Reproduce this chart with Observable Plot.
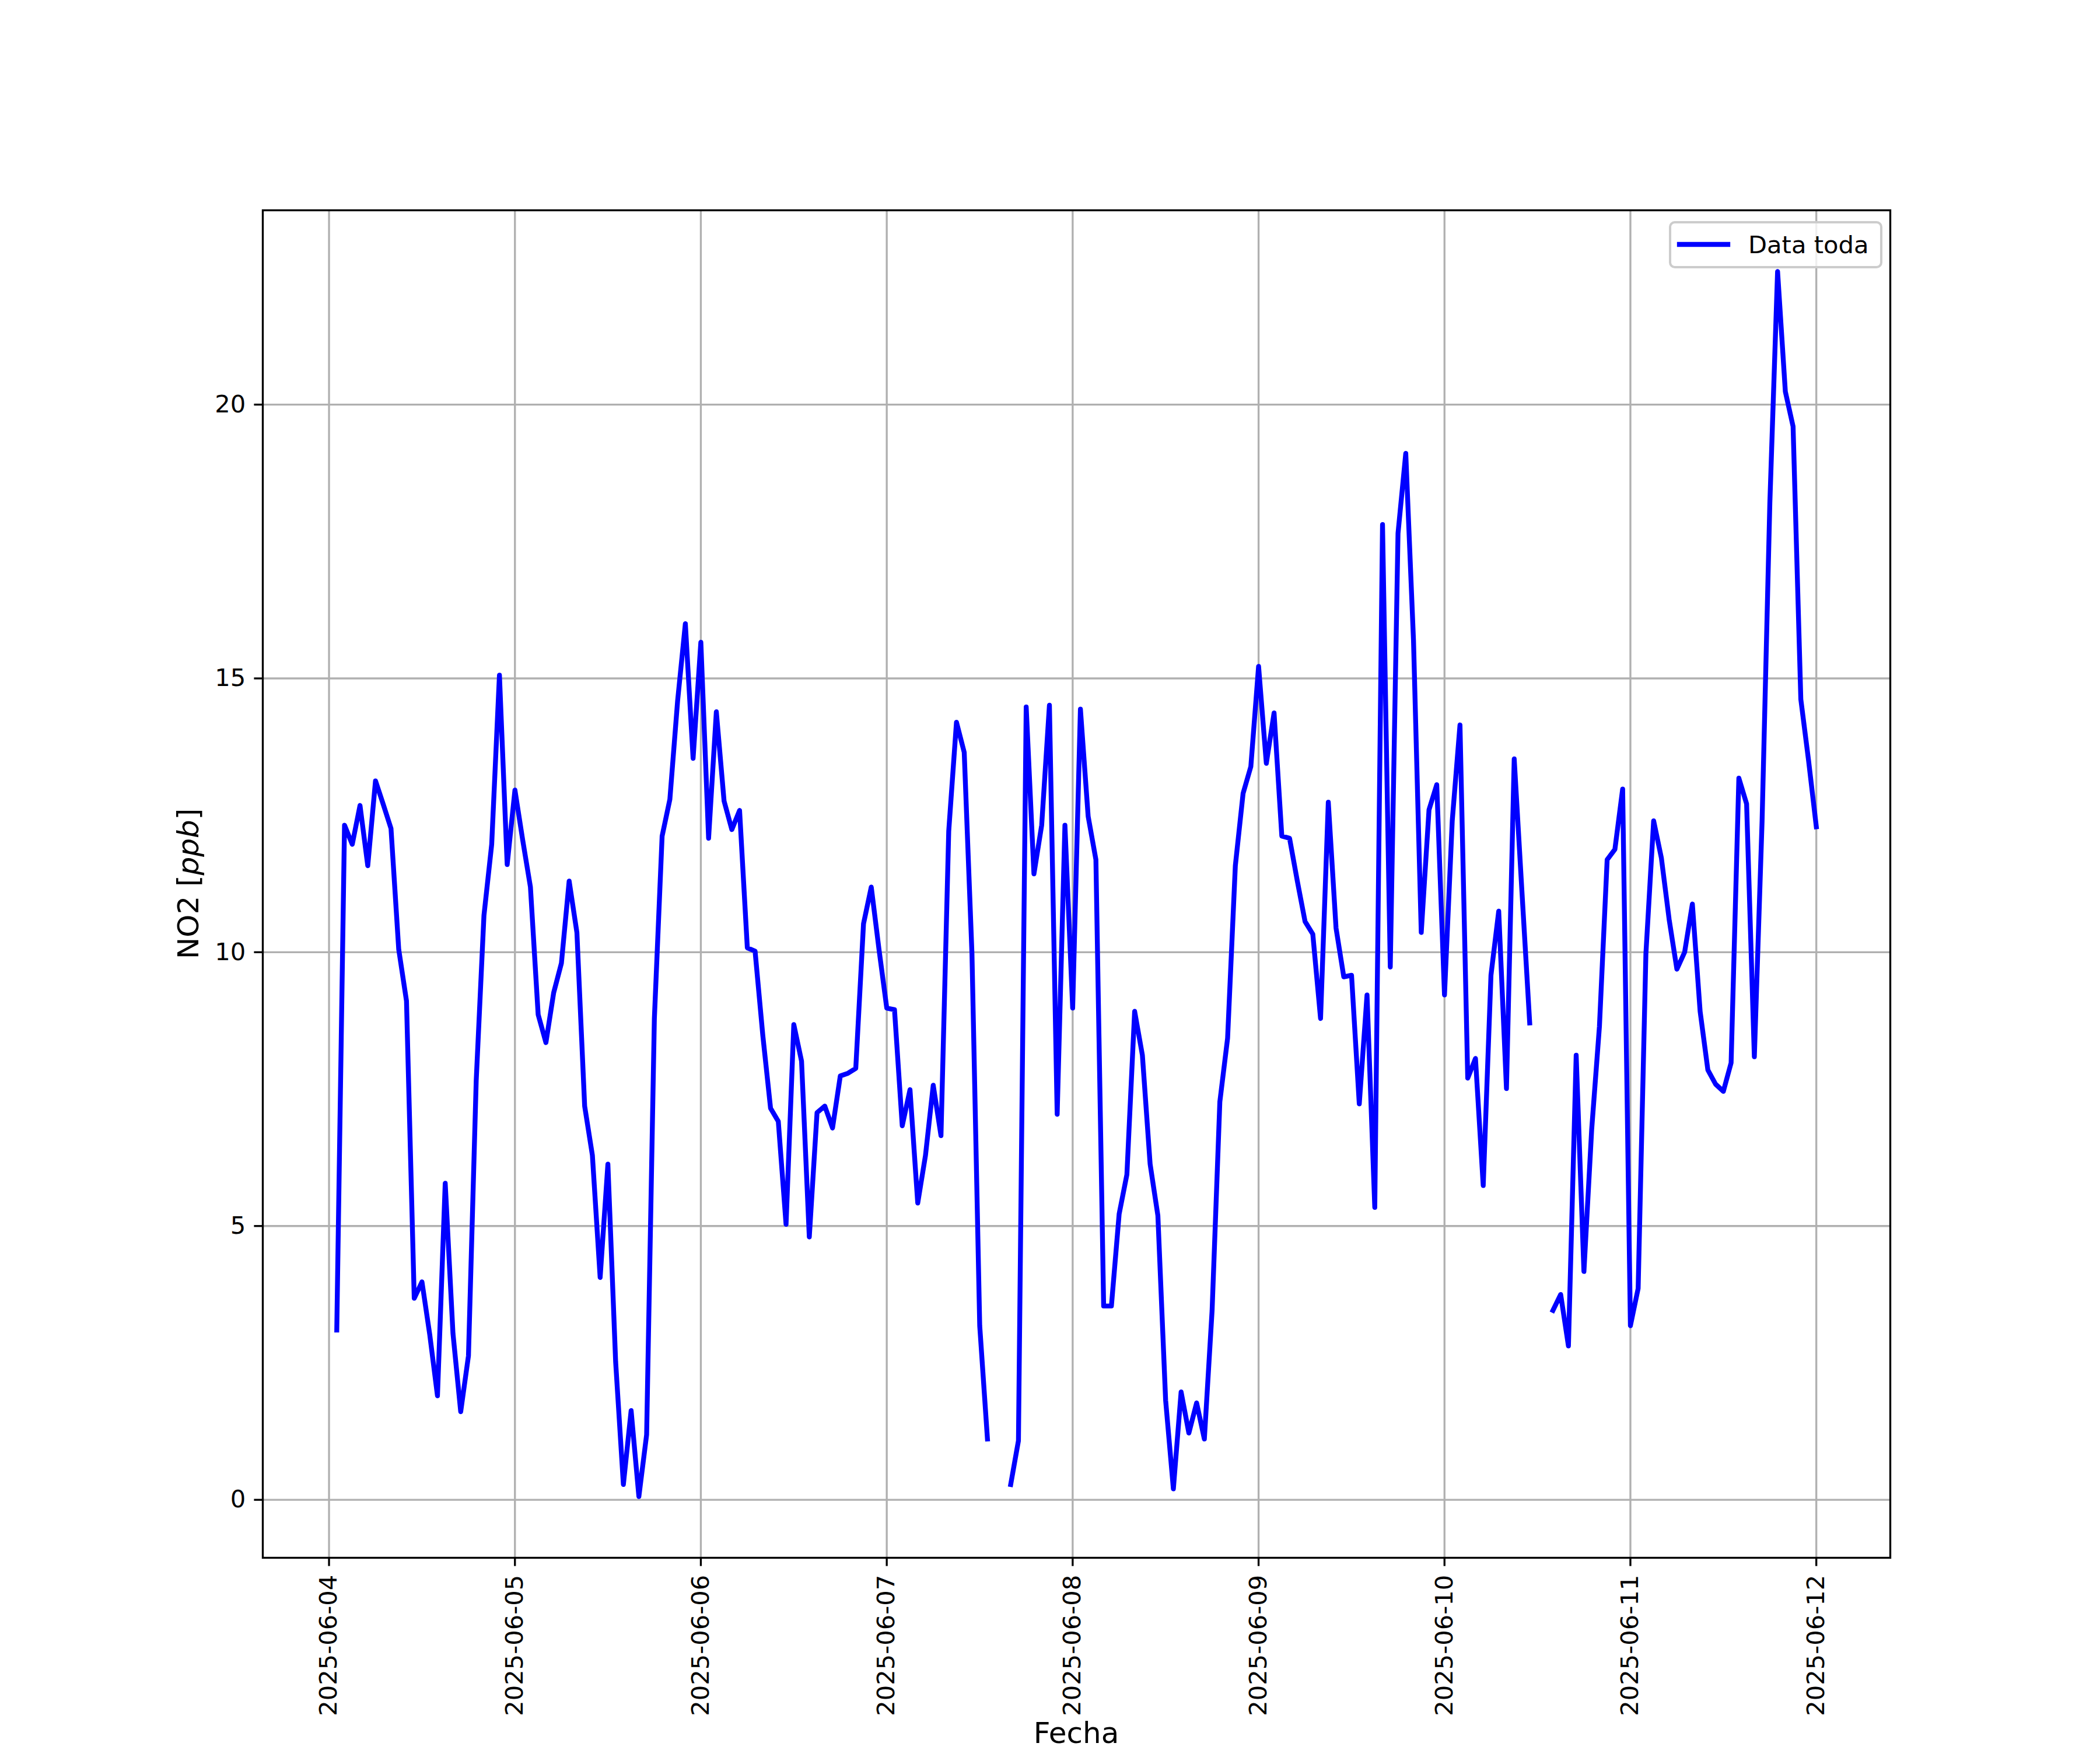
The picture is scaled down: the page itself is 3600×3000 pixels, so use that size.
<!DOCTYPE html>
<html>
<head>
<meta charset="utf-8">
<script src="https://cdn.jsdelivr.net/npm/d3@7"></script>
<script src="https://cdn.jsdelivr.net/npm/@observablehq/plot@0.6"></script>
<style>
  html, body { margin: 0; padding: 0; background: #ffffff; }
  svg { display: block; }
</style>
</head>
<body>
<div id="chart"></div>
<script>
// ---- Data (hourly NO2 values, ppb; null = missing hour) ----
const seriesName = "Data toda";
const xLabel = "Fecha";
const yLabelMain = "NO2 ";
const yLabelUnit = "ppb";
const firstDay = [2025, 5, 4]; // 2025-06-04 (month index 5 = June)

const day0604 = [null, 3.10, 12.32, 11.97, 12.68, 11.58, 13.13, 12.70, 12.26, 10.05, 9.11, 3.68,
                 3.98, 3.02, 1.90, 5.78, 3.04, 1.61, 2.63, 7.65, 10.67, 11.97, 15.06, 11.60];
const day0605 = [12.96, 12.05, 11.19, 8.86, 8.35, 9.26, 9.80, 11.30, 10.36, 7.19, 6.29, 4.06,
                 6.13, 2.52, 0.28, 1.63, 0.06, 1.19, 8.79, 12.12, 12.79, 14.59, 16.00, 13.54];
const day0606 = [15.66, 12.08, 14.39, 12.76, 12.24, 12.59, 10.08, 10.02, 8.48, 7.15, 6.91, 5.03,
                 8.68, 8.01, 4.80, 7.07, 7.19, 6.79, 7.74, 7.79, 7.88, 10.52, 11.19, 10.05];
const day0607 = [8.98, 8.95, 6.83, 7.49, 5.42, 6.29, 7.57, 6.65, 12.21, 14.20, 13.65, 9.97,
                 3.18, 1.11, null, null, 0.28, 1.08, 14.48, 11.43, 12.32, 14.51, 7.04, 12.32];
const day0608 = [8.98, 14.44, 12.48, 11.69, 3.54, 3.54, 5.22, 5.94, 8.92, 8.12, 6.13, 5.19,
                 1.82, 0.20, 1.97, 1.22, 1.77, 1.11, 3.46, 7.27, 8.43, 11.58, 12.90, 13.39];
const day0609 = [15.22, 13.45, 14.37, 12.12, 12.08, 11.30, 10.56, 10.33, 8.79, 12.74, 10.44, 9.55,
                 9.58, 7.23, 9.22, 5.34, 17.81, 9.73, 17.65, 19.11, 15.69, 10.36, 12.60, 13.06];
const day0610 = [9.22, 12.40, 14.15, 7.70, 8.06, 5.74, 9.58, 10.75, 7.51, 13.53, 11.10, 8.71,
                 null, null, 3.46, 3.75, 2.81, 8.12, 4.17, 6.76, 8.64, 11.69, 11.88, 12.98];
const day0611 = [3.18, 3.86, 9.97, 12.40, 11.72, 10.60, 9.69, 10.00, 10.88, 8.92, 7.85, 7.59,
                 7.46, 7.98, 13.18, 12.71, 8.09, 12.40, 18.20, 22.43, 20.24, 19.60, 14.62, 13.50];
const day0612 = [12.29];

const xTickLabels = ["2025-06-04", "2025-06-05", "2025-06-06", "2025-06-07", "2025-06-08",
                     "2025-06-09", "2025-06-10", "2025-06-11", "2025-06-12"];
const yTicks = [0, 5, 10, 15, 20];

// ---- Build table ----
const days = [day0604, day0605, day0606, day0607, day0608, day0609, day0610, day0611, day0612];
const data = [];
days.forEach((vals, d) => {
  vals.forEach((v, h) => {
    data.push({ t: new Date(Date.UTC(firstDay[0], firstDay[1], firstDay[2] + d, h)), v });
  });
});
const xTicks = xTickLabels.map(s => new Date(s + "T00:00:00Z"));

const valid = data.filter(d => d.v != null);
const tExt = d3.extent(valid, d => +d.t);
const vExt = d3.extent(valid, d => d.v);
const tPad = (tExt[1] - tExt[0]) * 0.05;
const vPad = (vExt[1] - vExt[0]) * 0.05;

// ---- Styling constants (300 dpi matplotlib look) ----
const FS = 41.67;    // 10 pt
const FL = 50;       // 12 pt axis labels
const LW = 3.33;     // 0.8 pt
const TICK = 14.6;   // 3.5 pt
const LINE = 8.33;   // 2 pt
const W = 3600, H = 3000;
const mL = 450, mR = 360, mT = 360, mB = 330;

const chart = Plot.plot({
  width: W, height: H,
  marginLeft: mL, marginRight: mR, marginTop: mT, marginBottom: mB,
  style: { fontFamily: "DejaVu Sans", fontSize: FS + "px", background: "#ffffff", color: "#000000" },
  x: { type: "utc", domain: [new Date(tExt[0] - tPad), new Date(tExt[1] + tPad)] },
  y: { domain: [vExt[0] - vPad, vExt[1] + vPad] },
  marks: [
    Plot.gridX(xTicks, { stroke: "#b0b0b0", strokeOpacity: 1, strokeWidth: LW }),
    Plot.gridY(yTicks, { stroke: "#b0b0b0", strokeOpacity: 1, strokeWidth: LW }),
    Plot.line(data, { x: "t", y: "v", stroke: "#0000ff", strokeWidth: LINE,
                      strokeLinecap: "square", strokeLinejoin: "round" }),
    Plot.frame({ stroke: "#000000", strokeWidth: LW }),
    Plot.axisX(xTicks, { tickFormat: d3.utcFormat("%Y-%m-%d"), tickRotate: -90,
                         tickSize: TICK, tickPadding: TICK, strokeWidth: LW,
                         label: null, fontSize: FS, fill: "#000000" }),
    Plot.axisY(yTicks, { tickFormat: d3.format("d"), tickSize: TICK, tickPadding: TICK,
                         strokeWidth: LW, label: null, fontSize: FS, fill: "#000000" })
  ]
});

document.getElementById("chart").appendChild(chart);

// ---- Axis labels and legend ----
const svg = d3.select(chart);
svg.append("text")
  .attr("x", mL + (W - mL - mR) / 2).attr("y", 2988)
  .attr("text-anchor", "middle")
  .attr("font-family", "DejaVu Sans").attr("font-size", FL).attr("fill", "#000")
  .text(xLabel);

const yl = svg.append("text")
  .attr("transform", `translate(340, ${mT + (H - mT - mB) / 2}) rotate(-90)`)
  .attr("text-anchor", "middle")
  .attr("font-family", "DejaVu Sans").attr("font-size", FL).attr("fill", "#000");
yl.append("tspan").text(yLabelMain + "[");
yl.append("tspan").attr("font-style", "italic").text(yLabelUnit);
yl.append("tspan").text("]");

const lg = svg.append("g");
lg.append("rect")
  .attr("x", 2863).attr("y", 381).attr("width", 362).attr("height", 77)
  .attr("rx", 8).attr("ry", 8)
  .attr("fill", "#ffffff").attr("fill-opacity", 0.8)
  .attr("stroke", "#cccccc").attr("stroke-width", 4);
lg.append("line")
  .attr("x1", 2879).attr("x2", 2962).attr("y1", 419).attr("y2", 419)
  .attr("stroke", "#0000ff").attr("stroke-width", LINE).attr("stroke-linecap", "square");
lg.append("text")
  .attr("x", 2997).attr("y", 434)
  .attr("text-anchor", "start")
  .attr("font-family", "DejaVu Sans").attr("font-size", FS).attr("fill", "#000")
  .text(seriesName);
</script>
</body>
</html>
